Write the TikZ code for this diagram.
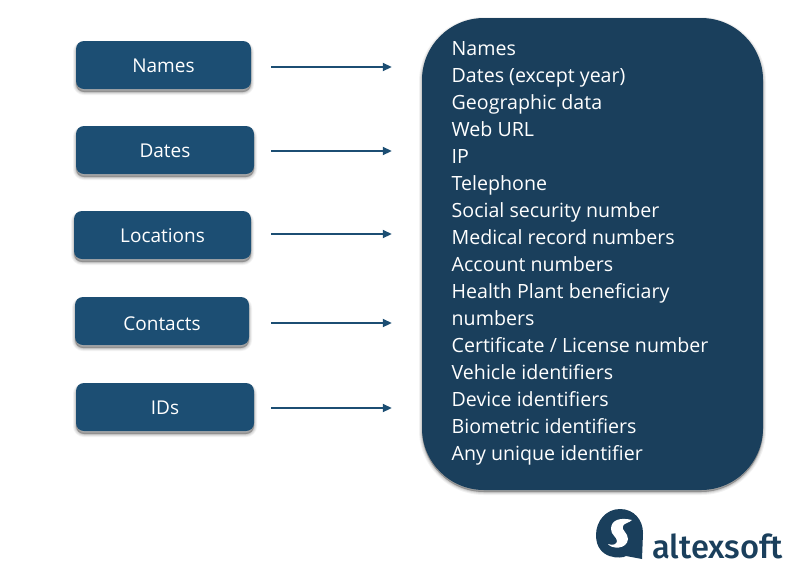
\documentclass[tikz,border=0pt]{standalone}
\usepackage{fontspec}
\setmainfont{Open Sans}
\newfontfamily\logofont{Fira Sans Medium}
\usetikzlibrary{arrows.meta}
\definecolor{boxblue}{HTML}{1C4E73}
\definecolor{panelblue}{HTML}{1A3F5C}
\definecolor{logoblue}{HTML}{1A3F5C}
\tikzset{
  x=1pt,y=-1pt,
  softshadow/.style={
    preaction={draw=black,fill=black,draw opacity=.05,fill opacity=.05,line width=6pt,transform canvas={yshift=-#1}},
    preaction={draw=black,fill=black,draw opacity=.07,fill opacity=.07,line width=4pt,transform canvas={yshift=-#1}},
    preaction={draw=black,fill=black,draw opacity=.09,fill opacity=.09,line width=2pt,transform canvas={yshift=-#1}},
    preaction={fill=black,fill opacity=.12,transform canvas={yshift=-#1}}},
  srcbox/.style={fill=boxblue,rounded corners=8pt,inner sep=0pt,text=white,
    text height=15.6pt,text depth=0pt,
    font=\fontsize{19}{22}\selectfont,softshadow=3pt},
  panel/.style={fill=panelblue,rounded corners=62pt,inner sep=0pt,softshadow=2pt},
  listtext/.style={text=white,inner sep=0pt,align=left,anchor=north west,
    font=\fontsize{19.6}{27}\selectfont},
  conn/.style={draw=boxblue,line width=1.8pt,-{Triangle[length=9pt,width=8pt]},shorten >=30pt}
}
\newcommand{\pxbox}[6]{\node[srcbox,minimum width=#4 pt,minimum height=#5 pt] (#1) at (#2,#3) {#6};}
\begin{document}
\begin{tikzpicture}
\useasboundingbox (0,0) rectangle (794,574);
\pxbox{names}{163.5}{65}{175}{48}{Names}
\pxbox{dates}{165}{150}{178}{48}{Dates}
\pxbox{locations}{162.5}{235}{177}{48}{Locations}
\node[srcbox,text height=19.6pt,minimum width=174pt,minimum height=48pt] (contacts) at (162,321) {Contacts};
\pxbox{ids}{165}{407}{178}{48}{IDs}
\node[panel,minimum width=341pt,minimum height=472pt] (panel) at (592.5,254) {};
\node[listtext] (list) at (451.5,41.5) {Names\\Dates (except year)\\Geographic data\\Web URL\\IP\\Telephone\\Social security number\\Medical record numbers\\Account numbers\\Health Plant beneficiary\\numbers\\Certificate / License number\\Vehicle identifiers\\Device identifiers\\Biometric identifiers\\Any unique identifier};
\draw[conn,shorten <=20pt] (names.east) ++(0,2) coordinate (a1) -- (a1 -| panel.west);
\draw[conn,shorten <=17pt] (dates.east) ++(0,1) coordinate (a2) -- (a2 -| panel.west);
\draw[conn,shorten <=20pt] (locations.east) ++(0,-1) coordinate (a3) -- (a3 -| panel.west);
\draw[conn,shorten <=22pt] (contacts.east) ++(0,2) coordinate (a4) -- (a4 -| panel.west);
\draw[conn,shorten <=17pt] (ids.east) ++(0,1) coordinate (a5) -- (a5 -| panel.west);
% logo
\fill[logoblue] (596,535) .. controls (596,521) and (606,509) .. (620,509)
  .. controls (634,509) and (643,520) .. (643,533) -- (642,559) -- (626,556)
  .. controls (622,559) and (596,560) .. (596,535) -- cycle;
\fill[white] (632,520) .. controls (620,517) and (611,520) .. (611,529)
  .. controls (611,535) and (617,537) .. (617,541)
  .. controls (617,544) and (613,546) .. (608,544)
  .. controls (611,549) and (627,550) .. (628,539)
  .. controls (628,533) and (621,530) .. (623,526)
  .. controls (624,523) and (629,523) .. (632,520) -- cycle;
\node[anchor=base west,inner sep=0pt,text=logoblue,font=\logofont\fontsize{32.7}{33}\selectfont] (logo) at (652,558) {altexsoft};
\end{tikzpicture}
\end{document}
